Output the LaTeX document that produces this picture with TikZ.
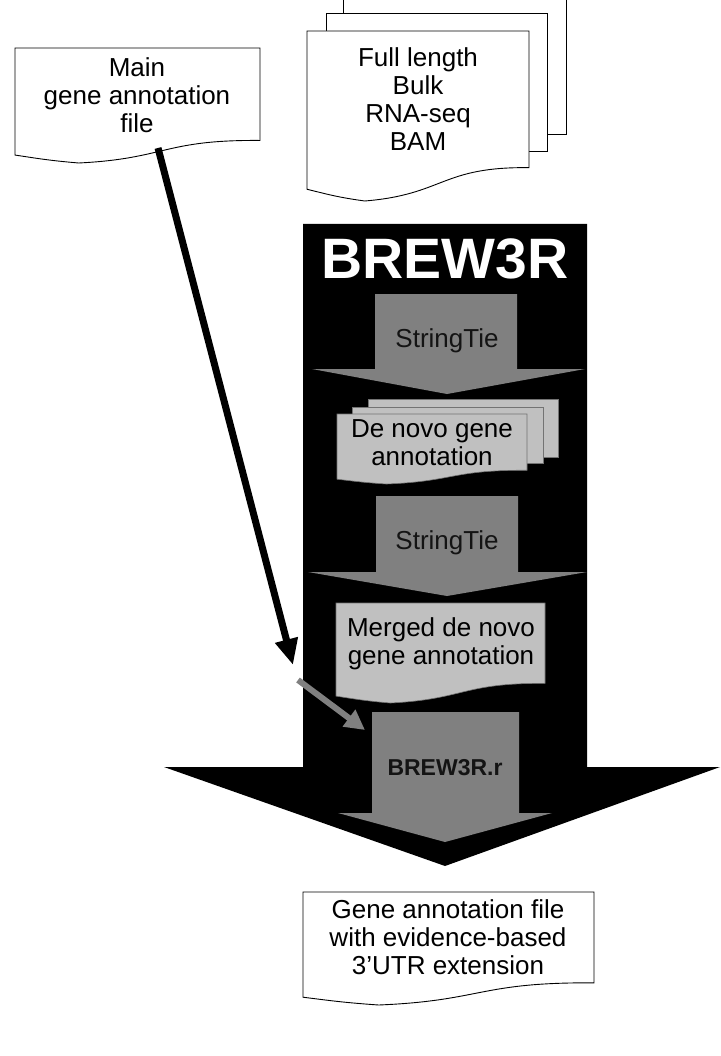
\documentclass[tikz,border=0pt]{standalone}
\usepackage{fontspec}
\setmainfont{Liberation Sans}
\usetikzlibrary{arrows.meta}
\definecolor{arrgray}{HTML}{808080}
\definecolor{docgray}{HTML}{C0C0C0}
\tikzset{
 doc/.style={fill=white,draw=black,line width=0.9pt},
 gdoc/.style={fill=docgray,draw=black!55,line width=0.6pt},
 txt/.style={font=\fontsize{26}{28}\selectfont,align=center,inner sep=0pt,text=black},
 steptxt/.style={font=\fontsize{26}{28}\selectfont,align=center,inner sep=0pt,text=black!92},
 bigarrow/.style={fill=black,draw=none},
 grayarrow/.style={fill=arrgray,draw=none},
}
\newcommand\docpath[5]{%
 \pgfmathsetmacro\dw{#4-#2}\pgfmathsetmacro\dh{#5-#3}%
 \path[#1] (#2,#3) -- (#4,#3) -- (#4,#3+0.804*\dh)
  .. controls (#2+0.604*\dw,#3+0.797*\dh) and (#2+0.618*\dw,#3+0.962*\dh) .. (#2+0.26*\dw,#5)
  .. controls (#2+0.132*\dw,#3+0.977*\dh) and (#2+0.086*\dw,#3+0.958*\dh) .. (#2,#3+0.931*\dh) -- cycle;}
\begin{document}
\begin{tikzpicture}[x=1pt,y=-1pt]
\useasboundingbox (0,0) rectangle (720,1056);
\clip (0,0) rectangle (720,1056);
\fill[white] (0,0) rectangle (720,1056);

% main gene annotation file
\docpath{doc}{15}{48}{260}{163}
\node[txt] (main) at (137,95) {Main\\gene annotation\\file};

% BAM stack
\path[doc] (343,-5) rectangle (566,134);
\path[doc] (326,13) rectangle (547,151);
\docpath{doc}{307}{31}{529}{201}
\node[txt] (bam) at (418,99.5) {Full length\\Bulk\\RNA-seq\\BAM};

% BREW3R big arrow
\path[bigarrow] (303,224) -- (587,224) -- (587,767) -- (720,767) -- (445,866) -- (164,767) -- (303,767) -- cycle;
\node[font=\fontsize{57}{62}\selectfont\bfseries,text=white,inner sep=0pt] (title) at (445,259) {BREW3R};

% StringTie 1
\path[grayarrow] (375,294) -- (517,294) -- (517,369) -- (585,369) -- (447,394) -- (312,369) -- (375,369) -- cycle;
\node[steptxt] (st1) at (447,341) {StringTie};

% De novo gene annotation (multi document)
\path[gdoc] (368,399) rectangle (558,457);
\path[gdoc] (352,407) rectangle (543,463);
\docpath{gdoc}{337}{414}{527}{484}
\node[txt] (denovo) at (432,443) {De novo gene\\annotation};

% StringTie 2
\path[grayarrow] (376,496) -- (518,496) -- (518,572) -- (587,572) -- (447,596) -- (308,572) -- (376,572) -- cycle;
\node[steptxt] (st2) at (447,543) {StringTie};

% Merged de novo gene annotation
\docpath{gdoc}{336}{603}{545}{703}
\node[txt] (merged) at (441,644) {Merged de novo\\gene annotation};

% BREW3R.r
\path[grayarrow] (372,712) -- (519,712) -- (519,813) -- (552,813) -- (445,842) -- (338,813) -- (372,813) -- cycle;
\node[font=\fontsize{23}{26}\selectfont\bfseries,text=black!92,inner sep=0pt] (brewr) at (445,768) {BREW3R.r};

% output file
\docpath{doc}{303}{892}{594}{1005}
\node[txt] (out) at (448,937) {Gene annotation file\\with evidence-based\\3’UTR extension};

% connectors
\coordinate (a1s) at (158,148);
\coordinate (a1e) at (293,665);
\draw[line width=7pt,-{Triangle[length=26pt,width=22pt]}] (a1s) -- (a1e);
\coordinate (a2s) at (298,680);
\coordinate (a2e) at (365,730);
\draw[arrgray,line width=6pt,-{Triangle[length=20pt,width=20pt]}] (a2s) -- (a2e);
\end{tikzpicture}
\end{document}
